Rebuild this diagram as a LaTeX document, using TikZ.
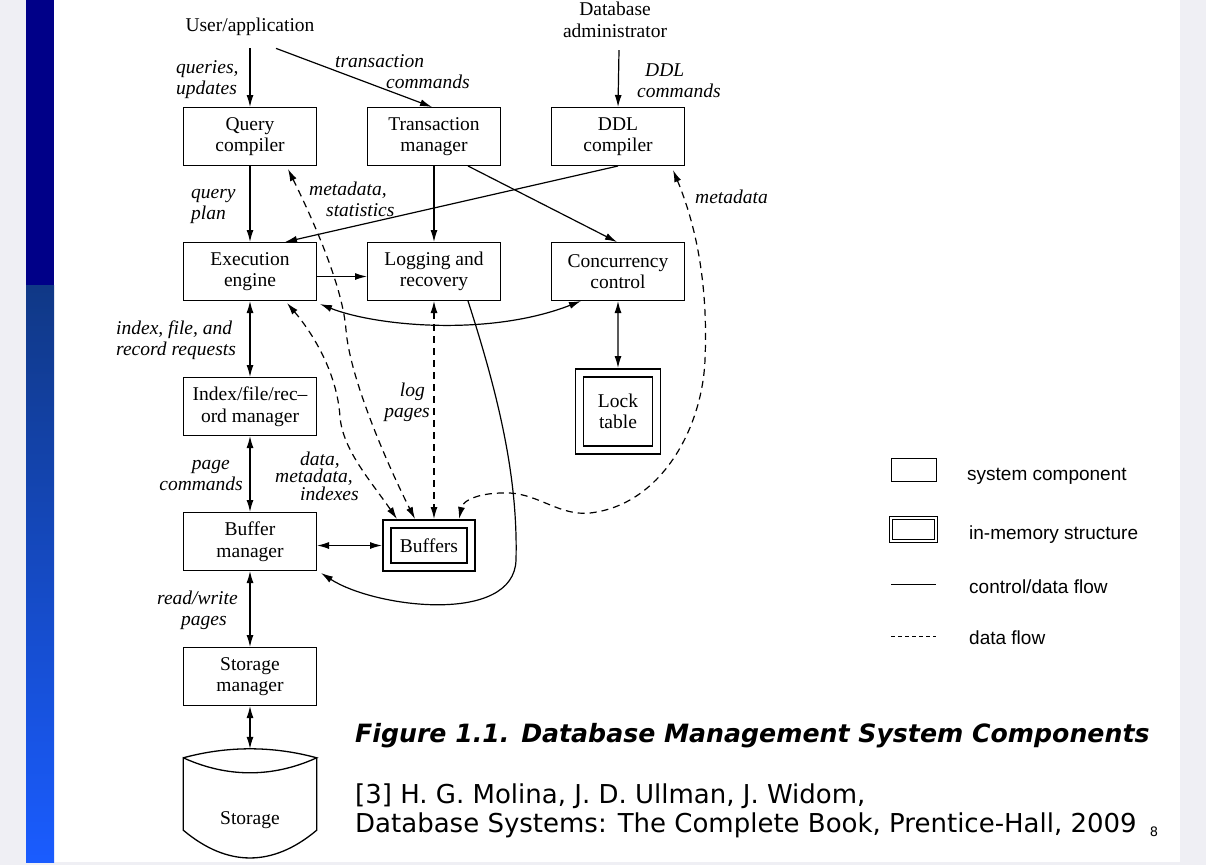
\documentclass[tikz,border=0pt]{standalone}
\usepackage{fontspec}
\setmainfont{Liberation Serif}
\newfontfamily\legendfont{Liberation Sans}
\newfontfamily\slidefont{DejaVu Sans}
\usetikzlibrary{arrows.meta, positioning}
\definecolor{pagegray}{HTML}{EFEFF4}
\definecolor{barnavy}{HTML}{000088}
\definecolor{barmid}{HTML}{103886}
\definecolor{barlow}{HTML}{1A5CFF}

\begin{document}
\begin{tikzpicture}[
    x=1pt, y=-1pt,
    node distance = 76pt and 50pt,
    font          = \fontsize{19.5}{21.5}\selectfont,
    >             = {Latex[length=12pt, width=7pt]},
    comp/.style   = {draw, line width=1.3pt, minimum width=132.7pt,
                     minimum height=57.7pt, inner sep=2pt, align=center},
    mem/.style    = {draw, double, double distance=6.7pt, line width=1.3pt,
                     outer sep=5pt, inner sep=2pt, align=center},
    arr/.style    = {line width=1.2pt},
    darr/.style   = {line width=1.2pt, dash pattern=on 7pt off 5pt},
    lbl/.style    = {font=\fontsize{19.5}{21}\selectfont\itshape,
                     inner sep=0pt, align=left},
    lgd/.style    = {font=\legendfont\fontsize{19}{22}\selectfont,
                     anchor=west, inner sep=0pt},
  ]
  % slide background
  \useasboundingbox (0,0) rectangle (1206,865);
  \fill[pagegray] (0,0) rectangle (1206,865);
  \fill[white] (54,0) rectangle (1180,862);
  \fill[barnavy] (26,0) rectangle (54,285);
  \shade[top color=barmid, bottom color=barlow] (26,285) rectangle (54,862);

  \node (Ua) at (250,27) {User/application};
  \node[align=center] (Da) at (615,20) {Database\\administrator};
  \node[comp] (Qc) at (250,136.5) {Query\\compiler};
  \node[comp, right=of Qc] (Tm) {Transaction\\manager};
  \node[comp, right=of Tm] (Dc) {DDL\\compiler};
  \node[comp, below=of Qc] (Ee) {Execution\\engine};
  \node[comp, below=of Tm] (Lr) {Logging and\\recovery};
  \node[comp, below=of Dc] (Cc) {Concurrency\\control};
  \node[comp, below=of Ee] (Im) {Index/file/rec--\\ord manager};
  \node[comp, below=of Im] (Bm) {Buffer\\manager};
  \node[comp, below=of Bm] (Sm) {Storage\\manager};
  \node[mem, minimum width=77pt, minimum height=77pt] (Lt) at (618,411.5) {Lock\\table};
  \node[mem, minimum width=84pt, minimum height=43pt] (Bf) at (429,545.5) {Buffers};
  \node[minimum width=133pt, inner sep=0pt, text height=66.5pt,
        text depth=5.5pt] (St) at (250,794) {Storage};
  % the disk drum round the Storage node
  \draw[line width=1.3pt] (St.north west) .. controls +(44,-12) and +(-44,-12) .. (St.north east)
        .. controls +(-44,20) and +(44,20) .. (St.north west) -- (St.south west)
        .. controls +(44,37) and +(-44,37) .. (St.south east) -- (St.north east);

  \draw[arr, ->] ([yshift=-9pt]Ua.south) -- (Qc);
  \draw[arr, ->] ([xshift=26pt, yshift=-9pt]Ua.south) -- ([xshift=-2pt]Tm.north);
  \draw[arr, ->] ([xshift=4pt, yshift=-9pt]Da.south) -- (Dc.north);
  \draw[arr, ->] (Qc) -- (Ee);
  \draw[arr, ->] (Tm) -- (Lr);
  \draw[arr, ->] ([xshift=34pt]Tm.south) -- ([xshift=-1pt]Cc.north);
  \draw[arr, ->] (Dc.south) -- ([xshift=35pt]Ee.north);
  \draw[arr, ->] ([yshift=-5pt]Ee.east) -- ([yshift=-5pt]Lr.west);
  \draw[arr, <->] ([xshift=3pt, yshift=-3pt]Ee.south east)
        .. controls +(55,22) and +(-92,36) .. ([xshift=30pt]Cc.south west);
  \draw[arr, <->] (Cc) -- (Lt);
  \draw[arr, <->] (Ee) -- (Im);
  \draw[arr, <->] (Im) -- (Bm);
  \draw[arr, <->] (Bm.east |- Bf.west) -- (Bf.west);
  \draw[arr, <->] (Bm) -- (Sm);
  \draw[arr, <->] (Sm.south) -- ([yshift=9pt]St.north);
  \draw[arr, ->] ([xshift=34pt]Lr.south) .. controls (500,400) and (518,480) .. (516,560)
        .. controls (514,625) and (375,608) .. ([xshift=4pt, yshift=-2pt]Bm.south east);

  % dashed data flow into the buffers
  \draw[darr, <->] ([xshift=37pt, yshift=-2pt]Ee.south) .. controls (310,330) and (337,370) .. (340,417)
        .. controls (343,450) and (370,480) .. ([xshift=-32pt]Bf.north);
  \draw[darr, <->] ([xshift=38pt, yshift=-3pt]Qc.south) .. controls (318,230) and (343,290) .. (346,330)
        .. controls (350,380) and (390,470) .. ([xshift=-14pt]Bf.north);
  \draw[darr, <->] (Lr.south) -- (Lr.south |- Bf.north);
  \draw[darr, <->] ([xshift=-12pt, yshift=-4pt]Dc.south east) .. controls (698,230) and (708,290) .. (705,360)
        .. controls (702,430) and (660,505) .. (590,513) .. controls (560,516) and (540,495) .. (510,493)
        .. controls (480,492) and (463,500) .. ([xshift=30pt]Bf.north);

  \node[lbl, anchor=west] (lQu) at (176,80) {queries,\\updates};
  \node[lbl, anchor=west] (lTc) at (335,72) {transaction\\\hspace*{51pt}commands};
  \node[lbl, anchor=west] (lDd) at (637,81) {\hspace*{8pt}DDL\\commands};
  \node[lbl, anchor=west] (lQp) at (191,206) {query\\plan};
  \node[lbl, anchor=west] (lMs) at (309,199) {metadata,\\\hspace*{17pt}statistics};
  \node[lbl, anchor=west] (lMd) at (695,197) {metadata};
  \node[lbl, anchor=west] (lIr) at (116,340) {index, file, and\\record requests};
  \node[lbl, anchor=east, align=right] (lLp) at (430,402) {log\hspace*{5pt}\\pages};
  \node[lbl, anchor=east, align=right] (lPc) at (243,475) {page\hspace*{13pt}\\commands};
  \node[lbl, anchor=west, font=\fontsize{19.5}{17.5}\selectfont\itshape] (lDm) at (275,476)
        {\hspace*{25pt}data,\\metadata,\\\hspace*{25pt}indexes};
  \node[lbl, anchor=west] (lRw) at (157,610) {read/write\\\hspace*{24pt}pages};

  % legend
  \node[draw, line width=1pt, minimum width=45pt, minimum height=23pt] (Lg1) at (914,470) {};
  \node[lgd] (Lgt1) at (967,476) {system component};
  \node[draw, line width=1.1pt, minimum width=48pt, minimum height=26pt] (Lg2) at (913.5,529.5) {};
  \node[draw, line width=1.1pt, minimum width=42pt, minimum height=20pt] (Lg2i) at (913.5,529.5) {};
  \node[lgd] (Lgt2) at (969,535) {in-memory structure};
  \coordinate (La) at (891,584);
  \coordinate (Lb) at (936,584);
  \draw[line width=1pt] (La) -- (Lb);
  \node[lgd] (Lgt3) at (969,587) {control/data flow};
  \coordinate (Lc) at (891,636);
  \coordinate (Ld) at (936,636);
  \draw[line width=0.9pt, dash pattern=on 4pt off 3pt] (Lc) -- (Ld);
  \node[lgd] (Lgt4) at (969,638) {data flow};

  \node[anchor=base west, inner sep=0pt, font=\slidefont\bfseries\itshape\fontsize{25.2}{30}\selectfont]
        (Cap) at (355,742) {Figure 1.1. Database Management System Components};
  \node[anchor=base west, inner sep=0pt, align=left, font=\slidefont\fontsize{26}{29}\selectfont]
        (Ref) at (355,832) {[3] H. G. Molina, J. D. Ullman, J. Widom,\\Database Systems: The Complete Book, Prentice-Hall, 2009};
  \node[inner sep=0pt, font=\slidefont\fontsize{13}{15}\selectfont] (Pg) at (1154,832) {8};
\end{tikzpicture}
\end{document}
